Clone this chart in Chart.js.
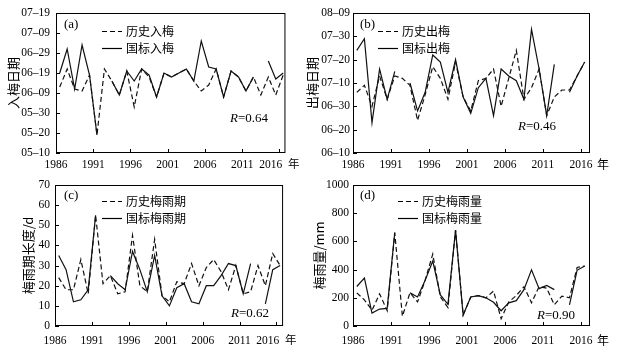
<!DOCTYPE html>
<html>
<head>
<meta charset="utf-8">
<script src="https://cdn.jsdelivr.net/npm/chart.js@4/dist/chart.umd.min.js"></script>
<style>
html, body { margin: 0; padding: 0; background: #fff; }
#wrap { position: relative; width: 617px; height: 352px; overflow: hidden; }
#wrap canvas { position: absolute; }
</style>
</head>
<body>
<div id="wrap">
  <canvas id="pa" width="305" height="176" style="left:0;top:0"></canvas>
  <canvas id="pb" width="317" height="176" style="left:300px;top:0"></canvas>
  <canvas id="pc" width="305" height="180" style="left:0;top:172px"></canvas>
  <canvas id="pd" width="317" height="180" style="left:300px;top:172px"></canvas>
</div>
<script>
const years = [1986, 1987, 1988, 1989, 1990, 1991, 1992, 1993, 1994, 1995, 1996,
  1997, 1998, 1999, 2000, 2001, 2002, 2003, 2004, 2005, 2006, 2007, 2008, 2009,
  2010, 2011, 2012, 2013, 2014, 2015, 2016];
const yearTicks = [1986, 1991, 1996, 2001, 2006, 2011, 2016];

// (a) 入梅日期
const entryHist = ['06-12', '06-21', '06-11', '06-10', '06-18', '05-19', '06-21', '06-15', '06-08', '06-20', '06-02',
  '06-21', '06-17', '06-07', '06-19', '06-17', '06-19', '06-21', '06-15', '06-10', '06-13',
  '06-21', '06-07', '06-20', '06-17', '06-10', '06-17', '06-08', '06-17', '06-08', '06-18'];
const entryStd = ['06-19', '07-01', '06-11', '07-03', '06-18', '05-19', null, '06-15', '06-08', '06-20', '06-15',
  '06-21', '06-18', '06-07', '06-19', '06-17', '06-19', '06-21', '06-15', '07-05', '06-22',
  '06-21', '06-07', '06-20', '06-17', '06-10', '06-17', null, '06-25', '06-16', '06-19'];
const entryTicks = ['05-10', '05-20', '05-30', '06-09', '06-19', '06-29', '07-09', '07-19'];

// (b) 出梅日期
const exitHist = ['07-06', '07-09', '06-30', '07-13', '07-03', '07-13', '07-12', '07-09', '06-24', '07-05', '07-17',
  '07-12', '07-03', '07-19', '07-04', '06-28', '07-11', '07-12', '07-16', '06-30', '07-12',
  '07-24', '07-03', '07-08', '07-16', '06-26', '07-04', '07-07', '07-07', '07-13', '07-19'];
const exitStd = ['07-24', '07-29', '06-23', '07-16', '07-03', '07-15', null, '07-10', '06-28', '07-06', '07-22',
  '07-19', '07-06', '07-20', '07-04', '06-27', '07-08', '07-12', '06-26', '07-16', '07-13',
  '07-11', '07-03', '08-02', '07-16', '06-26', '07-18', null, '07-06', '07-13', '07-19'];
const exitTicks = ['06-10', '06-20', '06-30', '07-10', '07-20', '07-30', '08-09'];

// (c) 梅雨期长度 (d)
const lengthHist = [24, 18, 18, 33, 16, 55, 21, 25, 16, 17, 45, 20, 17, 43, 15, 12,
  22, 21, 31, 20, 29, 33, 27, 18, 30, 16, 17, 30, 20, 36, 30];
const lengthStd = [35, 28, 12, 13, 18, 55, null, 25, 21, 18, 37, 28, 17, 35, 15, 10,
  19, 21, 12, 11, 20, 20, 25, 31, 30, 16, 31, null, 11, 28, 30];
const lengthTicks = [0, 10, 20, 30, 40, 50, 60, 70];

// (d) 梅雨量 (mm)
const rainHist = [235, 185, 112, 228, 108, 660, 69, 235, 171, 325, 510, 206, 130, 680, 78, 206,
  215, 200, 248, 52, 170, 216, 278, 165, 280, 268, 150, 212, 200, 415, 425];
const rainStd = [280, 340, 92, 120, 125, 665, null, 235, 206, 325, 460, 220, 154, 680, 78, 206,
  215, 200, 168, 108, 164, 180, 258, 398, 265, 288, 258, null, 150, 395, 425];
const rainTicks = [0, 100, 200, 300, 400, 500, 600, 700, 800, 900, 1000];

const serif = "'Liberation Serif', 'Noto Sans CJK SC', serif";
const cjk = "'Noto Sans CJK SC', sans-serif";
const midYear = 0.5; // values are plotted in the middle of their year

// day of year for 'MM-DD'
const day = s => {
  if (s === null) return null;
  const [m, d] = s.split('-').map(Number);
  return (Date.UTC(2001, m - 1, d) - Date.UTC(2001, 0, 1)) / 864e5;
};

// box, inward ticks, panel letter, legend and R value
const frame = {
  id: 'frame',
  afterDraw(chart, args, o) {
    const { ctx, chartArea: a, scales: { x, y } } = chart;
    ctx.save();
    ctx.strokeStyle = '#000';
    ctx.lineWidth = 1;
    ctx.strokeRect(a.left + 0.5, a.top + 0.5, a.width - 1, a.height - 1);
    ctx.beginPath();
    x.ticks.forEach(t => {
      const px = Math.round(x.getPixelForValue(t.value)) + 0.5;
      ctx.moveTo(px, a.bottom); ctx.lineTo(px, a.bottom - 4);
    });
    y.ticks.forEach(t => {
      const py = Math.round(y.getPixelForValue(t.value)) + 0.5;
      ctx.moveTo(a.left, py); ctx.lineTo(a.left + 4, py);
    });
    ctx.stroke();

    ctx.fillStyle = '#000';
    ctx.textBaseline = 'middle';
    ctx.font = '13px ' + serif;
    ctx.fillText(o.letter, a.left + o.letterX, a.top + o.letterY);

    chart.data.datasets.forEach((ds, i) => {
      const ly = a.top + o.legY + i * 17 + 0.5;
      ctx.beginPath();
      ctx.setLineDash(ds.borderDash || []);
      ctx.lineWidth = 1.2;
      ctx.moveTo(a.left + o.legX, ly);
      ctx.lineTo(a.left + o.legX + 20, ly);
      ctx.stroke();
      ctx.setLineDash([]);
      ctx.font = '12px ' + cjk;
      ctx.fillText(ds.label, a.left + o.legX + 24, ly);
    });

    let rx = a.left + o.rX;
    const ry = a.top + o.rY;
    ctx.font = 'italic 13px ' + serif;
    ctx.fillText('R', rx, ry);
    rx += ctx.measureText('R').width;
    ctx.font = '13px ' + serif;
    ctx.fillText('=' + o.r, rx, ry);

    if (o.unitX) {
      ctx.font = '12px ' + cjk;
      ctx.fillText('年', o.unitX, a.bottom + o.unitY);
    }
    ctx.restore();
  }
};

function panel(id, p) {
  const series = vals => years.map((yr, i) => ({ x: yr + midYear, y: vals[i] }));
  new Chart(document.getElementById(id), {
    type: 'line',
    data: {
      datasets: [
        { label: p.names[0], data: series(p.hist), borderDash: [5, 3] },
        { label: p.names[1], data: series(p.std) }
      ]
    },
    options: {
      responsive: false,
      animation: false,
      layout: { padding: { top: 13, right: p.padRight, left: 0, bottom: 0 } },
      elements: {
        point: { radius: 0 },
        line: { borderColor: '#111', borderWidth: 1.2, tension: 0, fill: false }
      },
      plugins: {
        legend: { display: false },
        tooltip: { enabled: false },
        frame: p.frame
      },
      scales: {
        x: {
          type: 'linear',
          min: 1986,
          max: p.xMax,
          grid: { display: false, drawTicks: false },
          border: { display: false },
          afterBuildTicks: s => { s.ticks = yearTicks.map(v => ({ value: v })); },
          afterFit: s => { s.height = p.xHeight; },
          ticks: {
            autoSkip: false, maxRotation: 0, padding: p.xPad, color: '#000',
            font: { family: serif, size: 11.5 },
            callback: v => (v === 2016 && p.unitInLabel ? '2016\u2002年' : String(v))
          }
        },
        y: {
          min: p.yTicks[0],
          max: p.yTicks[p.yTicks.length - 1],
          grid: { display: false, drawTicks: false },
          border: { display: false },
          afterBuildTicks: s => { s.ticks = p.yTicks.map(v => ({ value: v })); },
          afterFit: s => { s.width = p.yWidth; },
          ticks: {
            padding: p.yPad, color: '#000',
            font: { family: serif, size: 11.5 },
            callback: (v, i) => p.yLabels[i]
          },
          title: {
            display: true, text: p.yTitle, color: '#000',
            font: { family: cjk, size: 13 },
            padding: { top: p.titlePad, bottom: 0 }
          }
        }
      }
    },
    plugins: [frame]
  });
}

const dash = s => s.replace('-', '–');

panel('pa', {
  names: ['历史入梅', '国标入梅'],
  hist: entryHist.map(day), std: entryStd.map(day),
  yTicks: entryTicks.map(day), yLabels: entryTicks.map(dash),
  yTitle: '入梅日期', titlePad: 5, yWidth: 56, yPad: 6,
  xMax: 2016.8, xHeight: 23, xPad: 5, padRight: 15, unitInLabel: true,
  frame: { letter: '(a)', letterX: 8, letterY: 12, legX: 46, legY: 18, rX: 174, rY: 106, r: '0.64' }
});

panel('pb', {
  names: ['历史出梅', '国标出梅'],
  hist: exitHist.map(day), std: exitStd.map(day),
  yTicks: exitTicks.map(day), yLabels: exitTicks.map(dash),
  yTitle: '出梅日期', titlePad: 4, yWidth: 53, yPad: 3,
  xMax: 2017.2, xHeight: 23, xPad: 5, padRight: 27, unitInLabel: false,
  frame: { letter: '(b)', letterX: 7, letterY: 12, legX: 25, legY: 18, rX: 165, rY: 114, r: '0.46', unitX: 297, unitY: 11 }
});

panel('pc', {
  names: ['历史梅雨期', '国标梅雨期'],
  hist: lengthHist, std: lengthStd,
  yTicks: lengthTicks, yLabels: lengthTicks.map(String),
  yTitle: '梅雨期长度/d', titlePad: 20, yWidth: 55, yPad: 5,
  xMax: 2016.9, xHeight: 26, xPad: 8, padRight: 15, unitInLabel: true,
  frame: { letter: '(c)', letterX: 9, letterY: 11, legX: 47, legY: 16, rX: 176, rY: 128.5, r: '0.62' }
});

panel('pd', {
  names: ['历史梅雨量', '国标梅雨量'],
  hist: rainHist, std: rainStd,
  yTicks: rainTicks, yLabels: rainTicks.map(String),
  yTitle: '梅雨量/mm', titlePad: 11, yWidth: 53, yPad: 4,
  xMax: 2017.2, xHeight: 26, xPad: 8, padRight: 27, unitInLabel: false,
  frame: { letter: '(d)', letterX: 7, letterY: 11, legX: 45, legY: 16, rX: 184, rY: 131, r: '0.90', unitX: 297, unitY: 14 }
});
</script>
</body>
</html>
